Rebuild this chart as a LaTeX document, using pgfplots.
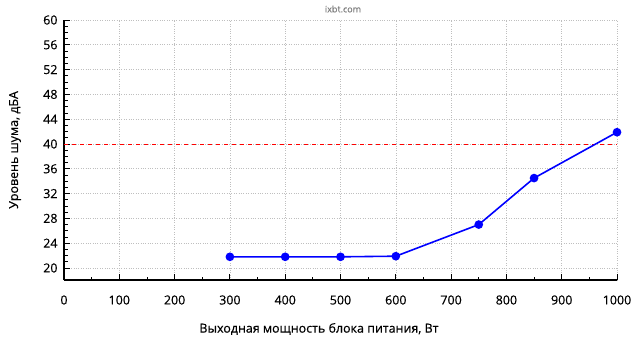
\documentclass[border=0pt]{standalone}
\usepackage{fontspec}
\setmainfont{Open Sans}[FakeBold=0.4]
\usepackage{pgfplots}
\pgfplotsset{compat=1.18}
\begin{document}
\begin{tikzpicture}[x=1bp,y=1bp]
\useasboundingbox (0,0) rectangle (640,360);
\fill[white] (0,0) rectangle (640,360);
\node[text=gray, font=\fontsize{9}{10}\selectfont] at (343,351) {ixbt.com};
\begin{axis}[
  at={(64bp,80bp)}, anchor=origin,
  scale only axis, width=553bp, height=260bp,
  xmin=0, xmax=1000, ymin=18.06, ymax=60,
  axis lines*=left, axis line style={-, line width=1.1pt},
  xtick={0,100,...,1000}, ytick={20,24,...,60},
  minor x tick num=1, minor y tick num=3,
  tick align=inside,
  major tick length=6bp, minor tick length=3.5bp,
  tick style={black, line width=0.9pt},
  grid=major, major grid style={gray!50, dotted, line width=0.6pt},
  /pgf/number format/assume math mode=true,
  /pgf/number format/1000 sep={},
  ticklabel style={font=\fontsize{12.5}{14}\selectfont},
  xticklabel style={anchor=center, yshift=-20bp},
  yticklabel style={anchor=east, xshift=-3bp},
  label style={font=\fontsize{12.5}{14}\selectfont},
  xlabel={Выходная мощность блока питания, Вт},
  ylabel={Уровень шума, дБА},
  xlabel style={at={(axis description cs:0.461,0)}, anchor=center, yshift=-49bp},
  ylabel style={at={(axis description cs:-0.0886,0.5)}, anchor=center, rotate=0},
  clip=false,
]
\addplot[red, line width=0.8pt, dash pattern=on 4bp off 4bp, forget plot] coordinates {(0,40) (1000,40)};
\addplot[blue, line width=1.6pt, mark=*, mark size=3.5bp, mark options={solid, fill=blue}] coordinates {
(300,21.8) (400,21.8) (500,21.8) (600,21.9) (750,27.0) (850,34.5) (1000,41.9)};
\end{axis}
\end{tikzpicture}
\end{document}
